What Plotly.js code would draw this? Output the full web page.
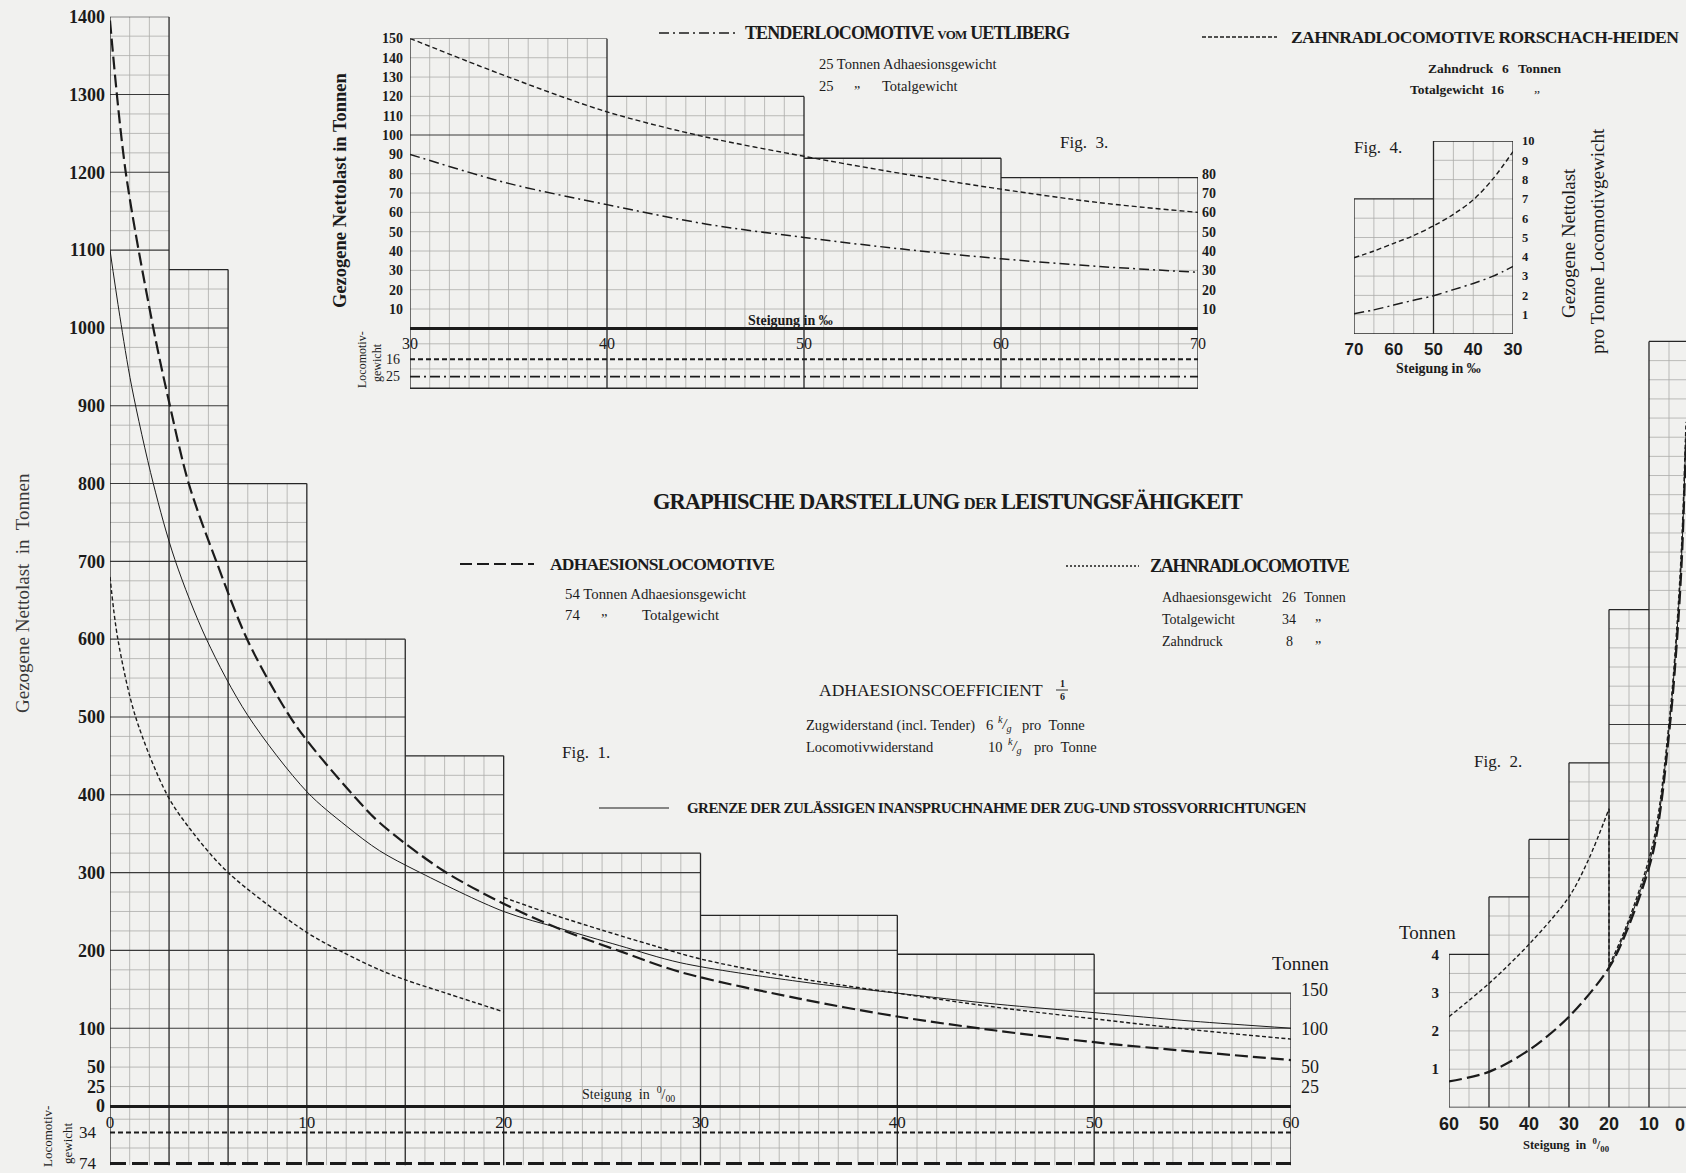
<!DOCTYPE html>
<html>
<head>
<meta charset="utf-8">
<script src="https://cdn.plot.ly/plotly-3.0.1.min.js"></script>
<style>
html,body{margin:0;padding:0;background:#f1f1ef;}
#chart{width:1686px;height:1173px;}
</style>
</head>
<body>
<div id="chart"></div>
<script>
// ================= DATA =================
// Fig. 1 : gezogene Nettolast (Tonnen) über Steigung (‰)
const fig1Edges = [0, 3, 6, 10, 15, 20, 30, 40, 50, 60];
const fig1Tops  = [1400, 1075, 800, 600, 450, 325, 245, 195, 145];
const fig1YTicks = [0, 25, 50, 100, 200, 300, 400, 500, 600, 700, 800, 900, 1000, 1100, 1200, 1300, 1400];
const fig1RightTicks = [25, 50, 100, 150];
const fig1XTicks = [0, 10, 20, 30, 40, 50, 60];
const fig1LocoWeights = [34, 74];            // Zahnradlocomotive, Adhaesionslocomotive

const adhSteig = [0, 0.8, 2.2, 3, 4, 5.4, 7, 9, 10, 12.3, 13.7, 16.9, 20, 22.9, 25.9, 29, 35, 40, 45, 50, 55, 60];
const adhLast  = [1395, 1200, 1000, 905, 800, 700, 598, 506, 470, 401, 364, 303, 260, 227, 199, 172, 138, 115, 97, 82, 70, 59];

const grenzeSteig = [0, 0.5, 1.1, 2.2, 3.3, 4.9, 7, 10, 12, 13.7, 15.6, 20, 22.9, 25.9, 29, 35, 40, 45, 50, 55, 60];
const grenzeLast  = [1100, 1015, 925, 800, 702, 600, 502, 404, 360, 328, 302, 250, 228, 206, 184, 160, 145, 131, 120, 109, 100];

const zahnAdhSteig = [0, 0.4, 1.3, 2.9, 4.1, 6, 10, 11.8, 13.7, 14.9, 17.2, 20];
const zahnAdhLast  = [680, 600, 500, 400, 355, 300, 223, 198, 175, 163, 144, 121];

const zahnRackSteig = [20, 22.5, 25, 27.5, 30, 35, 40, 45, 50, 55, 60];
const zahnRackLast  = [268, 246, 226, 207, 189, 164, 145, 127, 112, 98, 86];

// Fig. 3 : Tenderlocomotive vom Uetliberg / Zahnradlocomotive Rorschach-Heiden
const fig3Edges = [30, 40, 50, 60, 70];
const fig3Tops  = [150, 120, 88, 78];
const fig3YTicks = [10, 20, 30, 40, 50, 60, 70, 80, 90, 100, 110, 120, 130, 140, 150];
const fig3RightTicks = [10, 20, 30, 40, 50, 60, 70, 80];
const fig3XTicks = [30, 40, 50, 60, 70];
const fig3LocoWeights = [16, 25];            // Rorschach-Heiden, Uetliberg
const f3Steig = [30, 35, 40, 45, 50, 55, 60, 65, 70];
const uetLast = [90, 75, 64, 54, 47, 41, 36, 32, 29];
const rorLast = [150, 130, 112, 99, 89, 80, 72, 65, 60];

// Fig. 4 : Nettolast pro Tonne Locomotivgewicht
const fig4Edges = [70, 50, 30];
const fig4Tops  = [7, 10];
const fig4YTicks = [1, 2, 3, 4, 5, 6, 7, 8, 9, 10];
const fig4XTicks = [70, 60, 50, 40, 30];
const f4Steig = [70, 65, 60, 55, 50, 45, 40, 35, 30];
const rorProTonne = [3.95, 4.3, 4.7, 5.1, 5.6, 6.2, 6.95, 8.05, 9.45];
const uetProTonne = [1.05, 1.25, 1.5, 1.75, 1.98, 2.3, 2.62, 3.0, 3.5];

// Fig. 2 : Nettolast pro Tonne Locomotivgewicht (Fig. 1)
const fig2Edges = [60, 50, 40, 30, 20, 10, 0];
const fig2Tops  = [4, 5.5, 7, 9, 13, 20];
const fig2YTicks = [1, 2, 3, 4];
const fig2XTicks = [60, 50, 40, 30, 20, 10];
const f2AdhSteig = [60, 50, 40, 30, 20, 15.6, 8.9, 4.75, 3, 1.8, 0.75];
const f2AdhProTonne = [0.68, 0.93, 1.5, 2.37, 3.65, 4.6, 6.7, 10, 12.2, 14.3, 17.4];
const f2ZahnRackSteig = [60, 50, 40, 30, 25, 20];
const f2ZahnRackProTonne = [2.37, 3.24, 4.26, 5.5, 6.5, 7.8];
const f2ZahnAdhSteig = [20, 15.6, 8.9, 4.75, 3, 1.8, 0.75];
const f2ZahnAdhProTonne = [3.7, 4.75, 6.95, 10.3, 12.6, 14.8, 17.9];
const f2GrenzeSteig = [20, 15.6, 8.9, 4.75, 3, 1.8, 0.75];
const f2GrenzeProTonne = [3.62, 4.68, 6.8, 10.15, 12.4, 14.5, 17.6];

// ================= HELPERS =================
const W = 1686, H = 1173;
const X = px => px / W;
const Yp = py => 1 - py / H;
const INK = '#1b1b1b';
const SERIF = '"Liberation Serif", "DejaVu Serif", serif';
const SANS = '"Liberation Sans", "DejaVu Sans", sans-serif';

const STY = {
  adh:    {color: INK, width: 2.2, dash: '13px,5px'},
  zahn:   {color: INK, width: 1.4, dash: '4px,2.5px'},
  grenze: {color: INK, width: 1.0},
  uet:    {color: INK, width: 1.5, dash: '10px,4px,2px,4px'},
  ror:    {color: INK, width: 1.4, dash: '5px,3px'}
};

function buildGrid(edges, tops, o) {
  const minor = {x: [], y: []}, major = {x: [], y: []}, outline = {x: [], y: []};
  const seg = (t, x0, y0, x1, y1) => { t.x.push(x0, x1, null); t.y.push(y0, y1, null); };
  const near = (a, b) => Math.abs(a - b) < 1e-6;
  const lo = Math.min(...edges), hi = Math.max(...edges);
  const cols = tops.map((t, i) => ({a: Math.min(edges[i], edges[i + 1]), b: Math.max(edges[i], edges[i + 1]), top: t}));
  cols.forEach(c => {
    for (let k = 1; k * o.yStep < c.top - 1e-6; k++) {
      const y = k * o.yStep;
      const isMaj = o.yMajor && near(y / o.yMajor, Math.round(y / o.yMajor));
      seg(isMaj ? major : minor, c.a, y, c.b, y);
    }
    seg(outline, c.a, c.top, c.b, c.top);
  });
  const nx = Math.round((hi - lo) / o.xStep);
  for (let k = 0; k <= nx; k++) {
    const x = lo + k * o.xStep;
    let h = 0;
    cols.forEach(c => { if (x >= c.a - 1e-6 && x <= c.b + 1e-6) h = Math.max(h, c.top); });
    const isEdge = edges.some(e => near(e, x));
    const isMaj = o.xMajor && near(x / o.xMajor, Math.round(x / o.xMajor));
    seg(isEdge ? outline : (isMaj ? major : minor), x, o.bottom, x, h);
  }
  (o.stripLines || []).forEach(y => seg(minor, lo, y, hi, y));
  if (o.bottomLine) seg(outline, lo, o.bottom, hi, o.bottom);
  return {minor, major, outline};
}

const traces = [];
function addGrid(g, xa, ya) {
  traces.push({type: 'scatter', mode: 'lines', x: g.minor.x, y: g.minor.y, xaxis: xa, yaxis: ya,
    line: {color: '#acacaa', width: 0.8}, hoverinfo: 'skip', showlegend: false});
  traces.push({type: 'scatter', mode: 'lines', x: g.major.x, y: g.major.y, xaxis: xa, yaxis: ya,
    line: {color: '#3a3a3a', width: 1.1}, hoverinfo: 'skip', showlegend: false});
  traces.push({type: 'scatter', mode: 'lines', x: g.outline.x, y: g.outline.y, xaxis: xa, yaxis: ya,
    line: {color: '#262626', width: 1.3}, hoverinfo: 'skip', showlegend: false});
}
function addCurve(x, y, xa, ya, line, shape) {
  traces.push({type: 'scatter', mode: 'lines', x: x, y: y, xaxis: xa, yaxis: ya,
    line: Object.assign({shape: shape || 'spline', smoothing: 0.9}, line), hoverinfo: 'skip', showlegend: false});
}
function hLine(xs, yv, xa, ya, line) {
  traces.push({type: 'scatter', mode: 'lines', x: [Math.min(...xs), Math.max(...xs)], y: [yv, yv], xaxis: xa, yaxis: ya,
    line: line, hoverinfo: 'skip', showlegend: false});
}
function dummy(xa, ya) {
  traces.push({type: 'scatter', mode: 'lines', x: [null], y: [null], xaxis: xa, yaxis: ya, hoverinfo: 'skip', showlegend: false});
}
function posOf(dom, range, v) { return dom[0] + (v - range[0]) / (range[1] - range[0]) * (dom[1] - dom[0]); }

// ================= FIG 1 =================
addGrid(buildGrid(fig1Edges, fig1Tops, {xStep: 1, yStep: 25, yMajor: 100, xMajor: 10, bottom: -76, stripLines: [-17, -54]}), 'x', 'y');
addCurve(zahnAdhSteig, zahnAdhLast, 'x', 'y', STY.zahn);
addCurve(zahnRackSteig, zahnRackLast, 'x', 'y', STY.zahn);
addCurve(grenzeSteig, grenzeLast, 'x', 'y', STY.grenze);
addCurve(adhSteig, adhLast, 'x', 'y', STY.adh);
hLine(fig1Edges, -fig1LocoWeights[0], 'x', 'y', {color: INK, width: 2, dash: '5px,3px'});
hLine(fig1Edges, -fig1LocoWeights[1], 'x', 'y', {color: INK, width: 3, dash: '16px,6px'});
dummy('x', 'y2');

// ================= FIG 3 =================
addGrid(buildGrid(fig3Edges, fig3Tops, {xStep: 1, yStep: 10, yMajor: 100, bottom: -31, stripLines: [-8, -21], bottomLine: true}), 'x3', 'y3');
addCurve(f3Steig, rorLast, 'x3', 'y3', STY.ror);
addCurve(f3Steig, uetLast, 'x3', 'y3', STY.uet);
hLine(fig3Edges, -fig3LocoWeights[0], 'x3', 'y3', {color: INK, width: 1.8, dash: '5px,3px'});
hLine(fig3Edges, -fig3LocoWeights[1], 'x3', 'y3', {color: INK, width: 1.8, dash: '10px,4px,2px,4px'});
dummy('x3', 'y4');

// ================= FIG 4 =================
addGrid(buildGrid(fig4Edges, fig4Tops, {xStep: 5, yStep: 1, bottom: 0, bottomLine: true}), 'x5', 'y5');
addCurve(f4Steig, rorProTonne, 'x5', 'y5', STY.ror);
addCurve(f4Steig, uetProTonne, 'x5', 'y5', STY.uet);

// ================= FIG 2 =================
addGrid(buildGrid(fig2Edges, fig2Tops, {xStep: 5, yStep: 0.5, yMajor: 10, bottom: 0, bottomLine: true}), 'x6', 'y6');
addCurve(f2AdhSteig, f2AdhProTonne, 'x6', 'y6', STY.adh);
addCurve(f2GrenzeSteig, f2GrenzeProTonne, 'x6', 'y6', STY.grenze);
addCurve(f2ZahnRackSteig, f2ZahnRackProTonne, 'x6', 'y6', STY.zahn);
addCurve([f2ZahnRackSteig[f2ZahnRackSteig.length - 1], f2ZahnAdhSteig[0]],
         [f2ZahnRackProTonne[f2ZahnRackProTonne.length - 1], f2ZahnAdhProTonne[0]], 'x6', 'y6', STY.zahn, 'linear');
addCurve(f2ZahnAdhSteig, f2ZahnAdhProTonne, 'x6', 'y6', STY.zahn);

// ================= AXES =================
const base = {showgrid: false, zeroline: false, showline: false, ticks: '', fixedrange: true};
const f1xDom = [X(110), X(1291)], f1yDom = [Yp(1169.8), Yp(16.7)], f1yRange = [-82, 1400];
const f3xDom = [X(410), X(1198)], f3yDom = [Yp(390.2), Yp(38.4)], f3yRange = [-32, 150];
const f4xDom = [X(1354), X(1513)], f4yDom = [Yp(334), Yp(141)];
const f2xDom = [X(1449), 1], f2yDom = [Yp(1107.5), Yp(333.8)];

const tf = (fam, size, bold) => ({family: fam, size: size, color: INK, weight: bold ? 'bold' : 'normal'});

const layout = {
  width: W, height: H,
  margin: {l: 0, r: 0, t: 0, b: 0, pad: 0},
  paper_bgcolor: '#f1f1ef', plot_bgcolor: 'rgba(0,0,0,0)',
  showlegend: false,
  font: {family: SERIF, color: INK},
  xaxis: Object.assign({}, base, {domain: f1xDom, range: [0, 60], anchor: 'free',
    position: posOf(f1yDom, f1yRange, 0), side: 'bottom',
    showline: true, linewidth: 2.6, linecolor: INK,
    tickmode: 'array', tickvals: fig1XTicks, ticktext: fig1XTicks.map(String),
    tickfont: tf(SERIF, 17, false), ticklabelstandoff: 0}),
  yaxis: Object.assign({}, base, {domain: f1yDom, range: f1yRange, anchor: 'x',
    tickmode: 'array', tickvals: fig1YTicks, ticktext: fig1YTicks.map(String),
    tickfont: tf(SERIF, 18, true), ticklabelstandoff: 4}),
  yaxis2: Object.assign({}, base, {overlaying: 'y', side: 'right', anchor: 'x', range: f1yRange,
    tickmode: 'array', tickvals: fig1RightTicks, ticktext: fig1RightTicks.map(String),
    tickfont: tf(SERIF, 18, false), ticklabelstandoff: 9}),
  xaxis3: Object.assign({}, base, {domain: f3xDom, range: [30, 70], anchor: 'free',
    position: posOf(f3yDom, f3yRange, 0), side: 'bottom',
    showline: true, linewidth: 2.2, linecolor: INK,
    tickmode: 'array', tickvals: fig3XTicks, ticktext: fig3XTicks.map(String),
    tickfont: tf(SERIF, 16, false), ticklabelstandoff: 0}),
  yaxis3: Object.assign({}, base, {domain: f3yDom, range: f3yRange, anchor: 'x3',
    tickmode: 'array', tickvals: fig3YTicks, ticktext: fig3YTicks.map(String),
    tickfont: tf(SERIF, 14, true), ticklabelstandoff: 6}),
  yaxis4: Object.assign({}, base, {overlaying: 'y3', side: 'right', anchor: 'x3', range: f3yRange,
    tickmode: 'array', tickvals: fig3RightTicks, ticktext: fig3RightTicks.map(String),
    tickfont: tf(SERIF, 14, true), ticklabelstandoff: 3}),
  xaxis5: Object.assign({}, base, {domain: f4xDom, range: [70, 30], anchor: 'y5',
    tickmode: 'array', tickvals: fig4XTicks, ticktext: fig4XTicks.map(String),
    tickfont: tf(SANS, 17, true), ticklabelstandoff: 3}),
  yaxis5: Object.assign({}, base, {domain: f4yDom, range: [0, 10], anchor: 'x5', side: 'right',
    tickmode: 'array', tickvals: fig4YTicks, ticktext: fig4YTicks.map(String),
    tickfont: tf(SERIF, 12.5, true), ticklabelstandoff: 8}),
  xaxis6: Object.assign({}, base, {domain: f2xDom, range: [60, 0.75], anchor: 'y6',
    tickmode: 'array', tickvals: fig2XTicks, ticktext: fig2XTicks.map(String),
    tickfont: tf(SANS, 18, true), ticklabelstandoff: 3}),
  yaxis6: Object.assign({}, base, {domain: f2yDom, range: [0, 20.2], anchor: 'x6',
    tickmode: 'array', tickvals: fig2YTicks, ticktext: fig2YTicks.map(String),
    tickfont: tf(SERIF, 15, true), ticklabelstandoff: 9})
};

// ================= TEXTS =================
function ann(text, px, py, o) {
  o = o || {};
  return {text: text, x: X(px), y: Yp(py), xref: 'paper', yref: 'paper', showarrow: false,
    xanchor: o.xa || 'center', yanchor: o.ya || 'middle', textangle: o.angle || 0,
    font: {family: o.fam || SERIF, size: o.size || 14, color: o.color || INK, weight: o.bold ? 'bold' : 'normal'}};
}
// tightly set heading text (condensed look)
const tight = (t, ls, fs) => '<span style="letter-spacing:' + ls + 'px' + (fs ? ';font-size:' + fs + 'px' : '') + '">' + t + '</span>';
const NB = '\u00A0';
const annotations = [
  // main title
  ann(tight('GRAPHISCHE DARSTELLUNG ', -1.0) + tight('DER', -0.8, 16.5) + tight(' LEISTUNGSFÄHIGKEIT', -1.0), 948, 501, {size: 22.5, bold: true}),
  // Adhaesionslocomotive
  ann(tight('ADHAESIONSLOCOMOTIVE', -0.8), 548, 564, {xa: 'left', size: 17.5, bold: true}),
  ann('54 Tonnen Adhaesionsgewicht', 563, 594, {xa: 'left', size: 14.8}),
  ann('74', 563, 615, {xa: 'left', size: 14.8}),
  ann('„', 604, 611, {size: 14.5}),
  ann('Totalgewicht', 640, 615, {xa: 'left', size: 14.8}),
  // Zahnradlocomotive
  ann(tight('ZAHNRADLOCOMOTIVE', -1.2), 1148, 566, {xa: 'left', size: 18, bold: true}),
  ann('Adhaesionsgewicht', 1160, 597, {xa: 'left', size: 14}),
  ann('26', 1289, 597, {size: 14}),
  ann('Tonnen', 1302, 597, {xa: 'left', size: 14}),
  ann('Totalgewicht', 1160, 619, {xa: 'left', size: 14}),
  ann('34', 1289, 619, {size: 14}),
  ann('„', 1318, 616, {size: 14}),
  ann('Zahndruck', 1160, 641, {xa: 'left', size: 14}),
  ann('8', 1289, 641, {size: 14}),
  ann('„', 1318, 638, {size: 14}),
  // Adhaesionscoefficient
  ann('ADHAESIONSCOEFFICIENT', 817, 690, {xa: 'left', size: 17.5}),
  ann('1<br>6', 1062, 690, {size: 10, bold: true}),
  ann('Zugwiderstand (incl. Tender)', 804, 725, {xa: 'left', size: 14.5}),
  ann('6', 989, 725, {size: 14.5}),
  ann('<i><sup>k</sup>/<sub>g</sub></i>', 1005, 724, {size: 14.5}),
  ann('pro' + NB + NB + 'Tonne', 1020, 725, {xa: 'left', size: 14.5}),
  ann('Locomotivwiderstand', 804, 747, {xa: 'left', size: 14.5}),
  ann('10', 995, 747, {size: 14.5}),
  ann('<i><sup>k</sup>/<sub>g</sub></i>', 1015, 746, {size: 14.5}),
  ann('pro' + NB + NB + 'Tonne', 1032, 747, {xa: 'left', size: 14.5}),
  ann('Fig.' + NB + ' 1.', 560, 753, {xa: 'left', size: 17}),
  ann(tight('GRENZE DER ZULÄSSIGEN INANSPRUCHNAHME DER ZUG-UND STOSSVORRICHTUNGEN', -0.55), 685, 808, {xa: 'left', size: 15, bold: true}),
  // Fig 1 axis texts
  ann('Gezogene Nettolast' + NB + ' in' + NB + ' Tonnen', 22, 593, {angle: -90, size: 19, color: '#3a3a3a'}),
  ann('Locomotiv-', 47, 1137, {angle: -90, size: 13}),
  ann('gewicht', 67, 1143, {angle: -90, size: 13}),
  ann('Steigung' + NB + ' in' + NB + ' <sup>0</sup>/<sub>00</sub>', 628, 1094, {size: 14}),
  ann('Tonnen', 1270, 963, {xa: 'left', size: 19}),
  // Fig 3 texts
  ann(tight('TENDERLOCOMOTIVE ', -0.9) + tight('VOM', -0.7, 13) + tight(' UETLIBERG', -0.9), 743, 33, {xa: 'left', size: 18, bold: true}),
  ann('25 Tonnen Adhaesionsgewicht', 817, 64, {xa: 'left', size: 14.5}),
  ann('25', 817, 86, {xa: 'left', size: 14.5}),
  ann('„', 857, 83, {size: 14}),
  ann('Totalgewicht', 880, 86, {xa: 'left', size: 14.5}),
  ann('Fig.' + NB + ' 3.', 1058, 142, {xa: 'left', size: 17}),
  ann('Gezogene Nettolast in Tonnen', 340, 190, {angle: -90, size: 18.5, bold: true}),
  ann('Locomotiv-', 362, 360, {angle: -90, size: 12}),
  ann('gewicht', 377, 363, {angle: -90, size: 12}),
  ann('Steigung in ‰', 790, 321, {size: 14, bold: true}),
  // Rorschach-Heiden
  ann(tight('ZAHNRADLOCOMOTIVE RORSCHACH-HEIDEN', -0.55), 1289, 37, {xa: 'left', size: 17.5, bold: true}),
  ann('Zahndruck', 1426, 68, {xa: 'left', size: 13.5, bold: true}),
  ann('6', 1505, 68, {size: 13.5, bold: true}),
  ann('Tonnen', 1516, 68, {xa: 'left', size: 13.5, bold: true}),
  ann('Totalgewicht' + NB + ' 16', 1408, 90, {xa: 'left', size: 13.5, bold: true}),
  ann('„', 1537, 87, {size: 13.5}),
  // Fig 4
  ann('Fig.' + NB + ' 4.', 1352, 147, {xa: 'left', size: 17}),
  ann('Gezogene Nettolast', 1568, 243, {angle: -90, size: 19}),
  ann('pro Tonne Locomotivgewicht', 1598, 241, {angle: -90, size: 19}),
  ann('Steigung in ‰', 1438, 368, {size: 14, bold: true}),
  // Fig 2
  ann('Fig.' + NB + ' 2.', 1472, 761, {xa: 'left', size: 17}),
  ann('Tonnen', 1397, 932, {xa: 'left', size: 19}),
  ann('0', 1680, 1125, {fam: SANS, size: 18, bold: true}),
  ann('Steigung' + NB + ' in' + NB + ' <sup>0</sup>/<sub>00</sub>', 1566, 1145, {size: 12.5, bold: true})
];
// strip labels (locomotive weights) positioned on the data axes
fig1LocoWeights.forEach(w => annotations.push({text: String(w), x: X(88), xref: 'paper', y: -w, yref: 'y',
  showarrow: false, xanchor: 'center', yanchor: 'middle', font: {family: SERIF, size: 17, color: INK}}));
fig3LocoWeights.forEach(w => annotations.push({text: String(w), x: X(393), xref: 'paper', y: -w, yref: 'y3',
  showarrow: false, xanchor: 'center', yanchor: 'middle', font: {family: SERIF, size: 14, color: INK}}));
layout.annotations = annotations;

// legend line samples
function sample(x0, x1, y, line) {
  return {type: 'line', xref: 'paper', yref: 'paper', x0: X(x0), x1: X(x1), y0: Yp(y), y1: Yp(y), line: line};
}
layout.shapes = [
  sample(460, 534, 564, {color: INK, width: 2, dash: '12px,5px'}),
  sample(1066, 1139, 566, {color: INK, width: 1.3, dash: '2px,2px'}),
  sample(599, 669, 808, {color: INK, width: 1.1}),
  sample(659, 736, 33, {color: INK, width: 1.5, dash: '10px,4px,2px,4px'}),
  sample(1202, 1277, 37, {color: INK, width: 1.4, dash: '4px,2px'}),
  sample(1056, 1068, 690, {color: INK, width: 0.9})
];

Plotly.newPlot('chart', traces, layout, {staticPlot: true, displayModeBar: false});
</script>
</body>
</html>
